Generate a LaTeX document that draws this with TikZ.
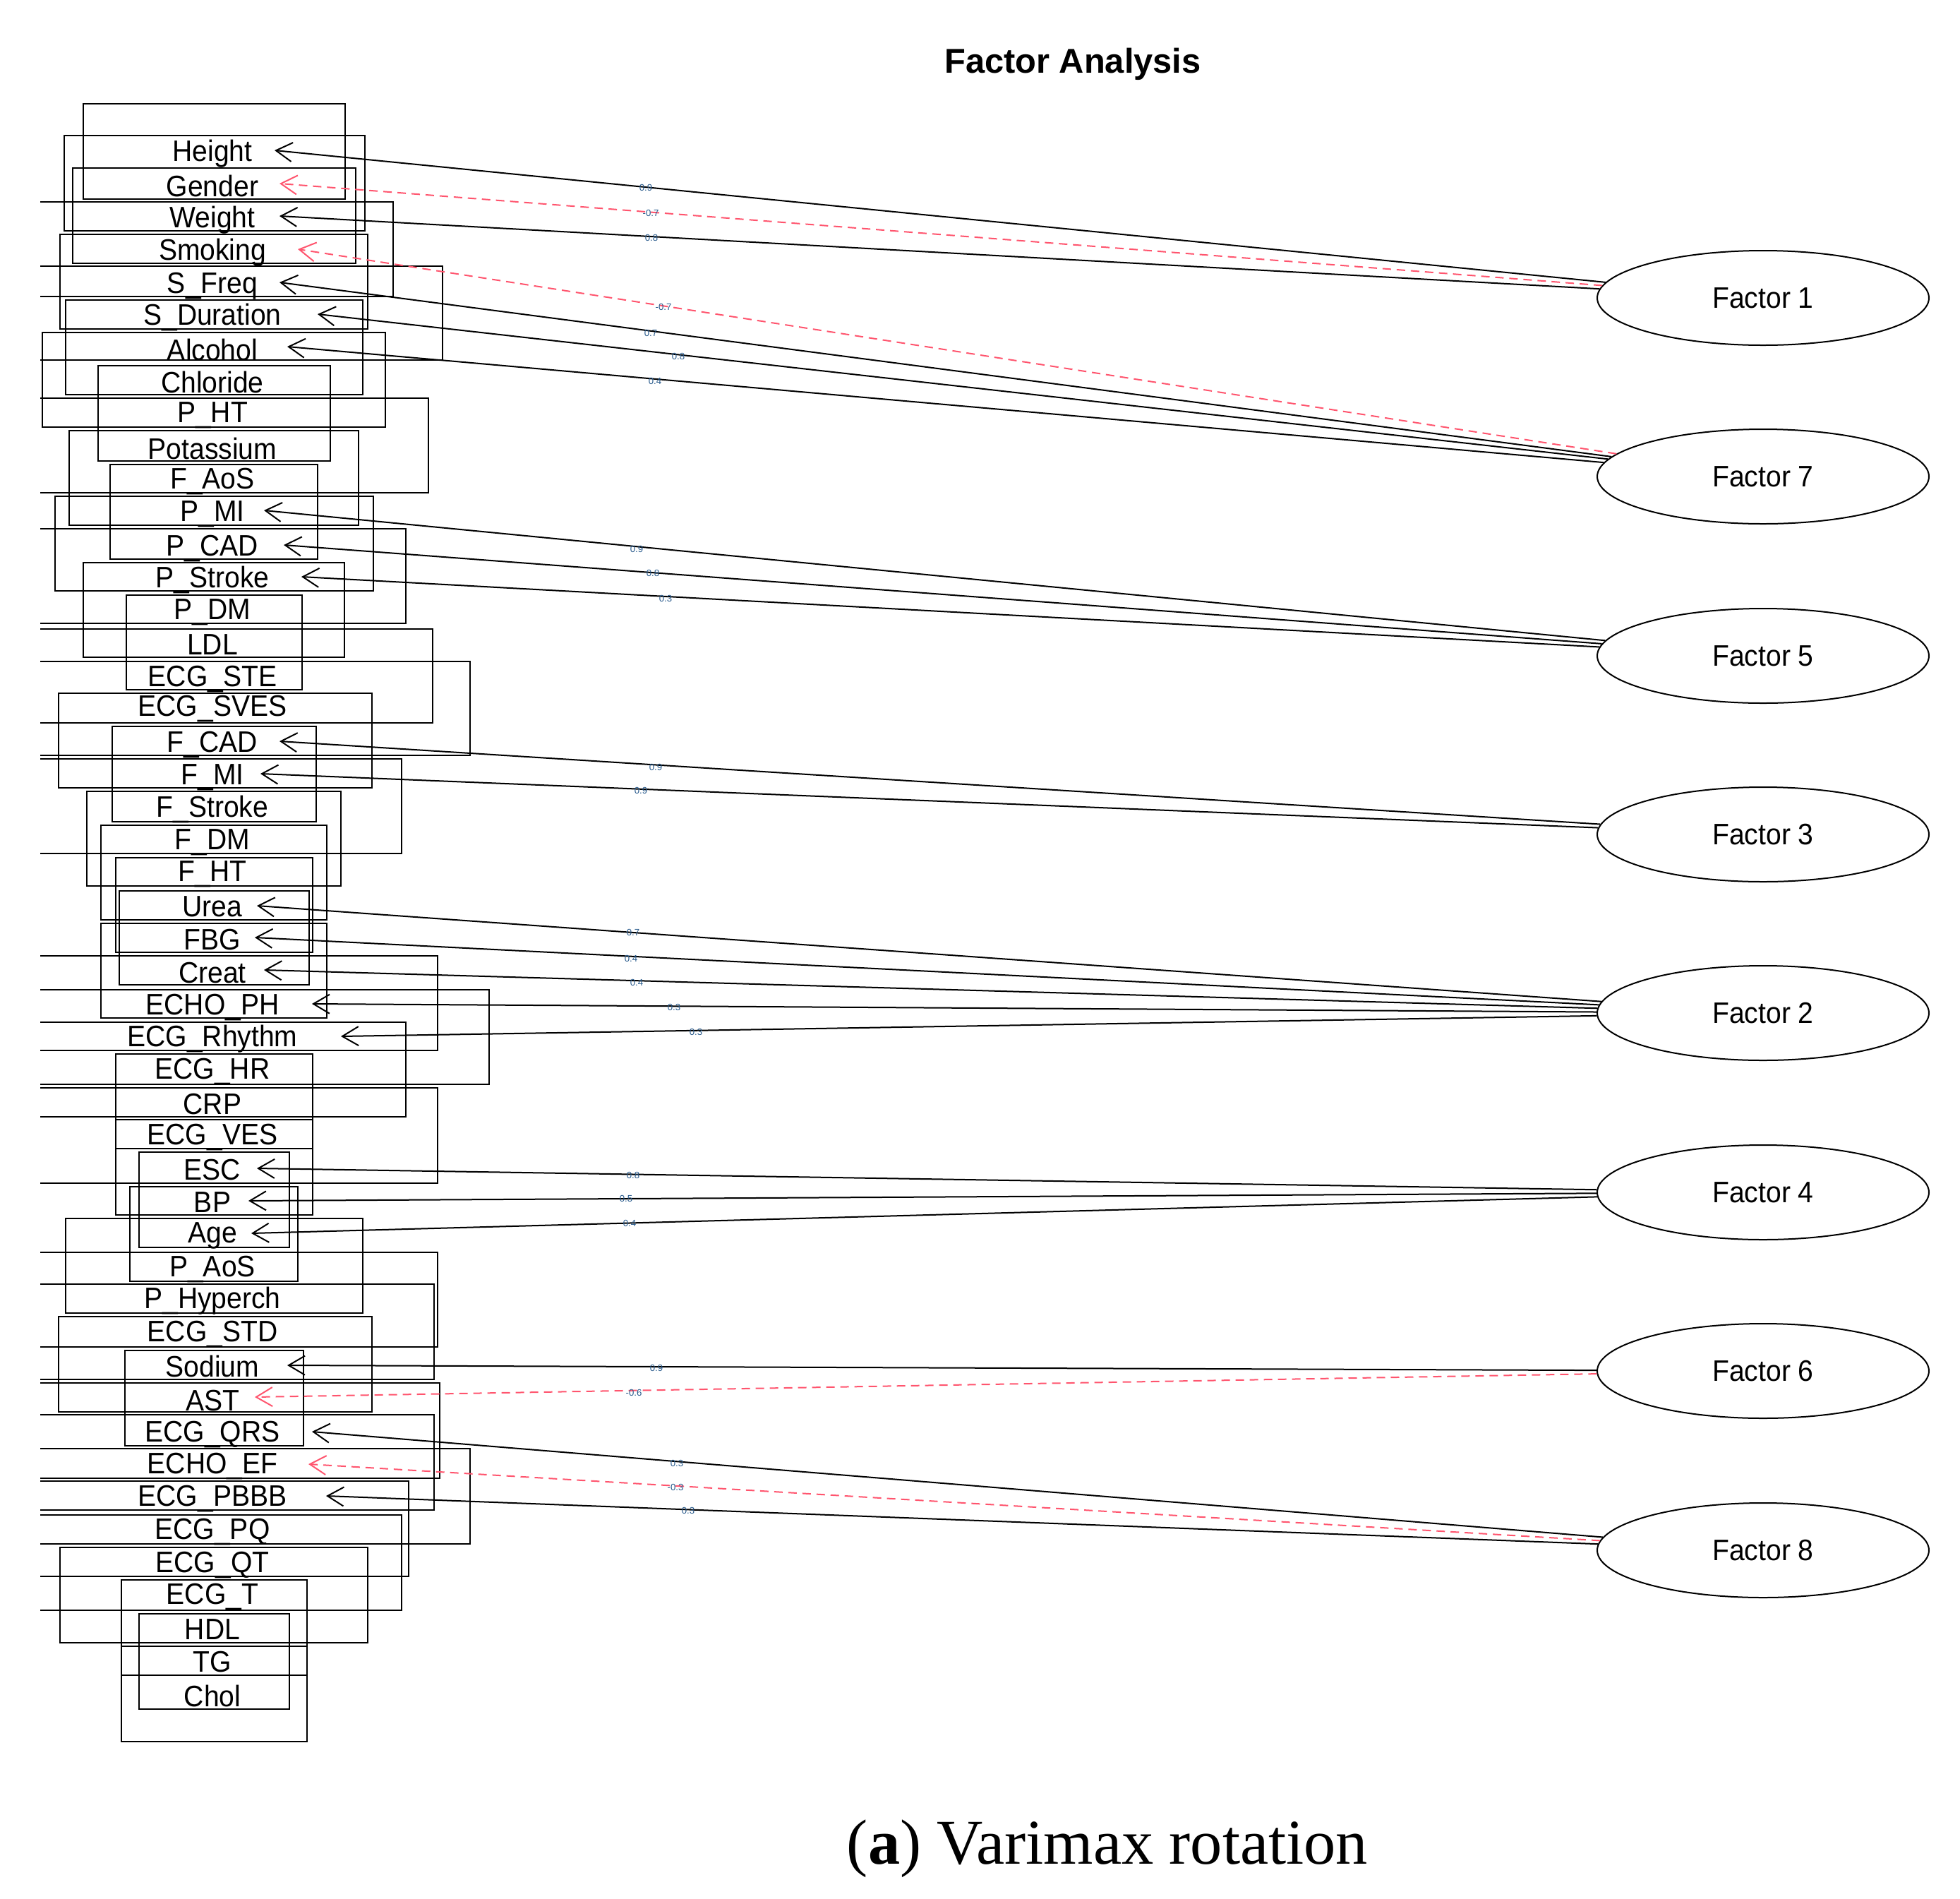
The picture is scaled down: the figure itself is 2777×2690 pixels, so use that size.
\documentclass[tikz,border=0pt]{standalone}
\usepackage{fontspec}
\setmainfont{Liberation Sans}
\newfontfamily\labfont[FakeStretch=0.93]{Liberation Sans}
\newfontfamily\capfont{Liberation Serif}
\usetikzlibrary{shapes.geometric,arrows.meta}
\definecolor{dashred}{RGB}{255,85,110}
\definecolor{loadcol}{RGB}{40,90,140}
\begin{document}
\begin{tikzpicture}[x=0.25pt,y=-0.25pt,
  box/.style={line width=0.6pt},
  var/.style={font=\labfont\fontsize{10.5}{12}\selectfont, inner sep=0pt, anchor=base},
  fac/.style={ellipse, draw, line width=0.5pt, minimum width=117.5pt, minimum height=33.5pt, inner sep=0pt, font=\labfont\fontsize{10.5}{12}\selectfont},
  posl/.style={line width=0.5pt, -{Straight Barb[length=5.75pt,width=6.75pt]}},
  negl/.style={posl, draw=dashred, dash pattern=on 3pt off 2pt},
  ld/.style={font=\fontsize{3.3}{3.5}\selectfont, text=loadcol, inner sep=0pt}]
\useasboundingbox (0,0) rectangle (2777,2690);

% title and caption
\node[font=\bfseries\fontsize{12.2}{14}\selectfont, anchor=base] (title) at (1520,103) {Factor Analysis};
\node[font=\capfont\fontsize{22.6}{25}\selectfont, anchor=base] (caption) at (1569,2640) {(\textbf{a}) Varimax rotation};

% full rectangles
\foreach \a/\b/\c/\d in {118/147/489/282, 91/192/517/327, 103/238/504/373, 85/332/521/466,
  93/425/514/559, 60/471/546/605, 139/518/468/653, 98/610/508/744, 156/658/450/792,
  78/703/529/837, 118/797/488/931, 179/843/428/977, 83/982/527/1116, 159/1029/448/1164,
  123/1121/483/1255, 143/1169/463/1303, 164/1215/443/1349, 169/1262/438/1395,
  143/1308/463/1442, 164/1493/443/1627, 164/1586/443/1721, 197/1632/410/1767,
  184/1681/422/1815, 93/1726/514/1860, 83/1865/527/2000, 177/1913/430/2048,
  85/2192/521/2327, 172/2238/435/2373, 172/2332/435/2467, 197/2286/410/2421}
  \draw[box] (\a,\b) rectangle (\c,\d);

% rectangles clipped at the left edge of the plot region
\foreach \b/\c/\d in {286/557/420, 377/627/510, 564/607/698, 749/575/883, 891/613/1024,
  937/666/1070, 1075/569/1209, 1354/620/1488, 1402/693/1536, 1448/575/1582,
  1541/620/1676, 1774/620/1908, 1819/615/1954, 1959/623/2094, 2004/615/2139,
  2052/666/2187, 2098/579/2233, 2146/569/2281}
  \draw[box] (57,\b) -- (\c,\b) -- (\c,\d) -- (57,\d);

% variable labels
\node[var] (vHeight) at (301,228) {Height};
\node[var] (vGender) at (301,278) {Gender};
\node[var] (vWeight) at (301,322) {Weight};
\node[var] (vSmoking) at (301,368) {Smoking};
\node[var] (vSFreq) at (301,415) {S\_Freq};
\node[var] (vSDur) at (301,460) {S\_Duration};
\node[var] (vAlcohol) at (301,510) {Alcohol};
\node[var] (vChloride) at (301,556) {Chloride};
\node[var] (vPHT) at (301,598) {P\_HT};
\node[var] (vPotassium) at (301,650) {Potassium};
\node[var] (vFAoS) at (301,692) {F\_AoS};
\node[var] (vPMI) at (301,738) {P\_MI};
\node[var] (vPCAD) at (301,787) {P\_CAD};
\node[var] (vPStroke) at (301,832) {P\_Stroke};
\node[var] (vPDM) at (301,877) {P\_DM};
\node[var] (vLDL) at (301,927) {LDL};
\node[var] (vECGSTE) at (301,972) {ECG\_STE};
\node[var] (vECGSVES) at (301,1014) {ECG\_SVES};
\node[var] (vFCAD) at (301,1065) {F\_CAD};
\node[var] (vFMI) at (301,1111) {F\_MI};
\node[var] (vFStroke) at (301,1157) {F\_Stroke};
\node[var] (vFDM) at (301,1203) {F\_DM};
\node[var] (vFHT) at (301,1248) {F\_HT};
\node[var] (vUrea) at (301,1298) {Urea};
\node[var] (vFBG) at (301,1345) {FBG};
\node[var] (vCreat) at (301,1392) {Creat};
\node[var] (vECHOPH) at (301,1437) {ECHO\_PH};
\node[var] (vECGRhythm) at (301,1482) {ECG\_Rhythm};
\node[var] (vECGHR) at (301,1528) {ECG\_HR};
\node[var] (vCRP) at (301,1578) {CRP};
\node[var] (vECGVES) at (301,1621) {ECG\_VES};
\node[var] (vESC) at (301,1671) {ESC};
\node[var] (vBP) at (301,1717) {BP};
\node[var] (vAge) at (301,1760) {Age};
\node[var] (vPAoS) at (301,1808) {P\_AoS};
\node[var] (vPHyperch) at (301,1853) {P\_Hyperch};
\node[var] (vECGSTD) at (301,1900) {ECG\_STD};
\node[var] (vSodium) at (301,1950) {Sodium};
\node[var] (vAST) at (301,1998) {AST};
\node[var] (vECGQRS) at (301,2042) {ECG\_QRS};
\node[var] (vECHOEF) at (301,2087) {ECHO\_EF};
\node[var] (vECGPBBB) at (301,2133) {ECG\_PBBB};
\node[var] (vECGPQ) at (301,2180) {ECG\_PQ};
\node[var] (vECGQT) at (301,2227) {ECG\_QT};
\node[var] (vECGT) at (301,2272) {ECG\_T};
\node[var] (vHDL) at (301,2322) {HDL};
\node[var] (vTG) at (301,2368) {TG};
\node[var] (vChol) at (301,2417) {Chol};

% arrow tips
\coordinate (tHeight) at (389,213);
\coordinate (tGender) at (396,260);
\coordinate (tWeight) at (396,306);
\coordinate (tSmoking) at (422,353);
\coordinate (tSFreq) at (396,400);
\coordinate (tSDur) at (450,445);
\coordinate (tAlcohol) at (407,491);
\coordinate (tPMI) at (374,723);
\coordinate (tPCAD) at (402,772);
\coordinate (tPStroke) at (427,817);
\coordinate (tFCAD) at (396,1050);
\coordinate (tFMI) at (369,1096);
\coordinate (tUrea) at (364,1283);
\coordinate (tFBG) at (361,1328);
\coordinate (tCreat) at (374,1374);
\coordinate (tECHOPH) at (442,1422);
\coordinate (tECGRhythm) at (483,1468);
\coordinate (tESC) at (364,1655);
\coordinate (tBP) at (352,1701);
\coordinate (tAge) at (356,1747);
\coordinate (tSodium) at (407,1934);
\coordinate (tAST) at (361,1979);
\coordinate (tECGQRS) at (442,2028);
\coordinate (tECHOEF) at (437,2074);
\coordinate (tECGPBBB) at (462,2119);

% factors
\node[fac] (f1) at (2498,422) {Factor 1};
\node[fac] (f7) at (2498,675) {Factor 7};
\node[fac] (f5) at (2498,929) {Factor 5};
\node[fac] (f3) at (2498,1182) {Factor 3};
\node[fac] (f2) at (2498,1435) {Factor 2};
\node[fac] (f4) at (2498,1689) {Factor 4};
\node[fac] (f6) at (2498,1942) {Factor 6};
\node[fac] (f8) at (2498,2196) {Factor 8};

% loadings
\draw[posl] (f1) -- (tHeight);
\draw[negl] (f1) -- (tGender);
\draw[posl] (f1) -- (tWeight);
\draw[negl] (f7) -- (tSmoking);
\draw[posl] (f7) -- (tSFreq);
\draw[posl] (f7) -- (tSDur);
\draw[posl] (f7) -- (tAlcohol);
\draw[posl] (f5) -- (tPMI);
\draw[posl] (f5) -- (tPCAD);
\draw[posl] (f5) -- (tPStroke);
\draw[posl] (f3) -- (tFCAD);
\draw[posl] (f3) -- (tFMI);
\draw[posl] (f2) -- (tUrea);
\draw[posl] (f2) -- (tFBG);
\draw[posl] (f2) -- (tCreat);
\draw[posl] (f2) -- (tECHOPH);
\draw[posl] (f2) -- (tECGRhythm);
\draw[posl] (f4) -- (tESC);
\draw[posl] (f4) -- (tBP);
\draw[posl] (f4) -- (tAge);
\draw[posl] (f6) -- (tSodium);
\draw[negl] (f6) -- (tAST);
\draw[posl] (f8) -- (tECGQRS);
\draw[negl] (f8) -- (tECHOEF);
\draw[posl] (f8) -- (tECGPBBB);

% loading values
\node[ld] (lHeight) at (915,266) {0.9};
\node[ld] (lGender) at (922,302) {-0.7};
\node[ld] (lWeight) at (923,337) {0.8};
\node[ld] (lSmoking) at (940,435) {-0.7};
\node[ld] (lSFreq) at (922,472) {0.7};
\node[ld] (lSDur) at (961,505) {0.8};
\node[ld] (lAlcohol) at (928,540) {0.4};
\node[ld] (lPMI) at (902,778) {0.9};
\node[ld] (lPCAD) at (925,812) {0.8};
\node[ld] (lPStroke) at (943,848) {0.3};
\node[ld] (lFCAD) at (929,1087) {0.9};
\node[ld] (lFMI) at (908,1120) {0.9};
\node[ld] (lUrea) at (897,1321) {0.7};
\node[ld] (lFBG) at (894,1358) {0.4};
\node[ld] (lCreat) at (902,1392) {0.4};
\node[ld] (lECHOPH) at (955,1427) {0.3};
\node[ld] (lECGRhythm) at (986,1462) {0.3};
\node[ld] (lESC) at (897,1665) {0.8};
\node[ld] (lBP) at (887,1698) {0.5};
\node[ld] (lAge) at (892,1733) {0.4};
\node[ld] (lSodium) at (930,1938) {0.9};
\node[ld] (lAST) at (898,1973) {-0.6};
\node[ld] (lECGQRS) at (959,2073) {0.3};
\node[ld] (lECHOEF) at (957,2107) {-0.3};
\node[ld] (lECGPBBB) at (975,2140) {0.3};
\end{tikzpicture}
\end{document}
